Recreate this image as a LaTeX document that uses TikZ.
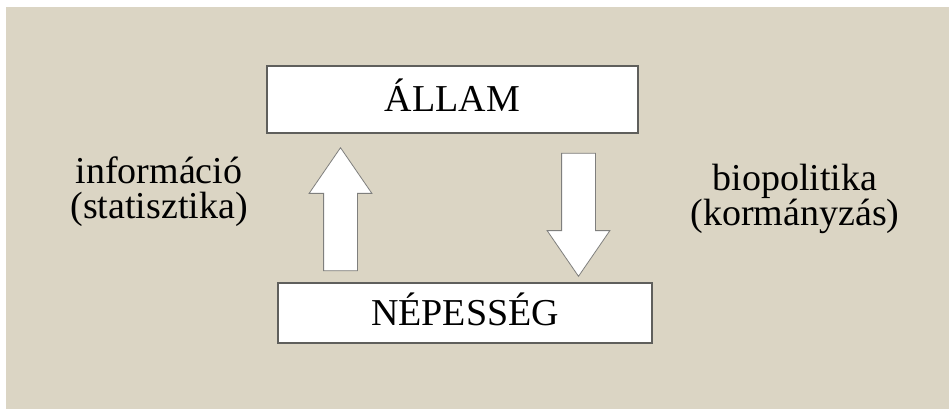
\documentclass[tikz,border=0pt]{standalone}
\usepackage{fontspec}
\setmainfont{Liberation Serif}
\usetikzlibrary{shapes.arrows}
\definecolor{paper}{RGB}{219,213,196}
\definecolor{rim}{RGB}{95,95,92}

\begin{document}
\begin{tikzpicture}[x=1pt, y=-1pt]
    \useasboundingbox (0,0) rectangle (949,409);
    \fill[paper] (6,7) rectangle (949,409);

    \tikzset{BoxStyle/.style={draw=rim, line width=1.6pt, fill=white, inner sep=0pt,
        text height=25pt, text depth=0pt, font=\fontsize{38}{36}\selectfont}}
    \node[BoxStyle, minimum width=371pt, minimum height=67pt] (allam)    at (452.5,99.5) {ÁLLAM};
    \node[BoxStyle, minimum width=374pt, minimum height=60pt] (nepesseg) at (465,313)    {NÉPESSÉG};

    \tikzset{ArrowStyle/.style={single arrow, draw=rim!80, line width=0.8pt, fill=white,
        inner xsep=0pt, inner ysep=16.5pt, minimum height=123pt,
        single arrow head extend=14.5pt, single arrow tip angle=69, anchor=tip}}
    \node[ArrowStyle, rotate=90]  (info) at (340.5,147) {};
    \node[ArrowStyle, rotate=-90] (bio)  at (578.5,277) {};

    \tikzset{LabelStyle/.style={align=center, font=\fontsize{38}{35}\selectfont}}
    \node[LabelStyle] (infolabel) at (159,192) {információ\\(statisztika)};
    \node[LabelStyle] (biolabel)  at (795,199) {biopolitika\\(kormányzás)};
\end{tikzpicture}
\end{document}
